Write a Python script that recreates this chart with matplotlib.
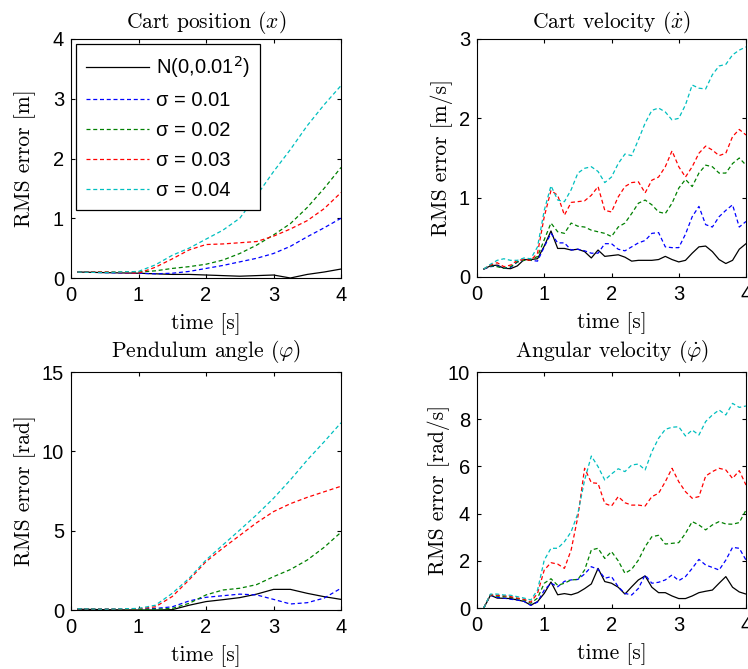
import matplotlib
matplotlib.use("Agg")

import numpy as np
import matplotlib.pyplot as plt

# ---------------------------
# DATA
# ---------------------------

# left panels are smooth, sampled coarser
t_slow = [0.1, 0.5, 1.0, 1.25, 1.5, 1.75, 2.0, 2.25, 2.5, 2.75, 3.0, 3.25, 3.5, 3.75, 4.0]

pos_noise = [0.10, 0.09, 0.08, 0.07, 0.06, 0.06, 0.05, 0.04, 0.03, 0.04, 0.05, 0.00, 0.06, 0.10, 0.15]
pos_s01 = [0.10, 0.09, 0.08, 0.07, 0.08, 0.11, 0.16, 0.21, 0.27, 0.33, 0.41, 0.53, 0.69, 0.84, 1.00]
pos_s02 = [0.10, 0.10, 0.10, 0.12, 0.16, 0.19, 0.23, 0.30, 0.41, 0.55, 0.72, 0.91, 1.18, 1.50, 1.85]
pos_s03 = [0.10, 0.10, 0.08, 0.18, 0.32, 0.47, 0.56, 0.57, 0.59, 0.61, 0.70, 0.82, 0.96, 1.16, 1.43]
pos_s04 = [0.10, 0.09, 0.11, 0.22, 0.38, 0.50, 0.65, 0.80, 1.00, 1.38, 1.78, 2.15, 2.55, 2.90, 3.22]

ang_noise = [0.05, 0.02, 0.00, 0.00, 0.02, 0.30, 0.53, 0.65, 0.78, 1.00, 1.30, 1.30, 1.05, 0.84, 0.67]
ang_s01 = [0.08, 0.05, 0.05, 0.10, 0.20, 0.57, 0.80, 0.90, 1.00, 0.95, 0.67, 0.38, 0.46, 0.75, 1.37]
ang_s02 = [0.08, 0.05, 0.03, 0.05, 0.10, 0.42, 0.95, 1.26, 1.37, 1.60, 2.10, 2.55, 3.15, 3.95, 4.90]
ang_s03 = [0.08, 0.05, 0.08, 0.20, 0.85, 1.90, 3.05, 3.90, 4.70, 5.50, 6.20, 6.70, 7.10, 7.45, 7.80]
ang_s04 = [0.08, 0.05, 0.10, 0.30, 1.05, 2.00, 3.15, 4.10, 5.04, 6.00, 7.04, 8.20, 9.45, 10.60, 11.80]

# right panels, 0.1 s steps
t_fast = [round(0.1 * k, 1) for k in range(1, 41)]

vel_noise = [0.10, 0.14, 0.15, 0.11, 0.105, 0.14, 0.22, 0.22, 0.23, 0.39,
             0.58, 0.36, 0.36, 0.34, 0.35, 0.32, 0.24, 0.34, 0.26, 0.27,
             0.28, 0.25, 0.20, 0.21, 0.21, 0.21, 0.22, 0.26, 0.22, 0.19,
             0.21, 0.30, 0.38, 0.39, 0.32, 0.22, 0.17, 0.21, 0.35, 0.42]
vel_s01 = [0.10, 0.13, 0.14, 0.11, 0.12, 0.19, 0.21, 0.21, 0.20, 0.38,
           0.55, 0.43, 0.43, 0.34, 0.35, 0.33, 0.30, 0.30, 0.42, 0.42,
           0.35, 0.33, 0.38, 0.43, 0.46, 0.55, 0.56, 0.38, 0.37, 0.37,
           0.54, 0.76, 0.89, 0.66, 0.63, 0.76, 0.84, 0.91, 0.63, 0.70]
vel_s02 = [0.10, 0.14, 0.13, 0.11, 0.13, 0.19, 0.21, 0.21, 0.26, 0.47,
           0.68, 0.57, 0.55, 0.68, 0.64, 0.63, 0.59, 0.57, 0.55, 0.51,
           0.63, 0.68, 0.80, 0.93, 0.97, 0.91, 0.82, 0.80, 0.93, 1.12,
           1.23, 1.14, 1.31, 1.41, 1.39, 1.31, 1.31, 1.43, 1.50, 1.41]
vel_s03 = [0.10, 0.15, 0.18, 0.13, 0.15, 0.21, 0.22, 0.21, 0.30, 0.76,
           1.09, 1.03, 0.78, 0.94, 0.95, 0.96, 1.03, 1.14, 0.84, 0.82,
           1.01, 1.14, 1.19, 1.20, 1.06, 1.22, 1.26, 1.39, 1.59, 1.39,
           1.26, 1.39, 1.56, 1.65, 1.60, 1.53, 1.56, 1.77, 1.86, 1.79]
vel_s04 = [0.10, 0.16, 0.21, 0.23, 0.21, 0.21, 0.24, 0.23, 0.38, 0.84,
           1.15, 0.97, 0.95, 1.10, 1.31, 1.37, 1.39, 1.33, 1.19, 1.26,
           1.43, 1.55, 1.53, 1.73, 1.94, 2.10, 2.13, 2.08, 1.98, 2.00,
           2.17, 2.42, 2.38, 2.37, 2.55, 2.66, 2.68, 2.80, 2.86, 2.90]

avel_noise = [0.00, 0.54, 0.42, 0.41, 0.40, 0.34, 0.28, 0.12, 0.27, 0.62,
              1.10, 0.56, 0.61, 0.56, 0.65, 0.82, 1.02, 1.68, 1.12, 1.05,
              0.88, 0.59, 0.90, 1.19, 1.36, 0.88, 0.65, 0.65, 0.51, 0.40,
              0.40, 0.51, 0.65, 0.71, 0.76, 1.05, 1.33, 0.88, 0.68, 0.59]
avel_s01 = [0.00, 0.54, 0.45, 0.42, 0.37, 0.34, 0.28, 0.11, 0.25, 0.76,
            1.05, 0.90, 1.13, 1.19, 1.21, 1.44, 1.75, 1.64, 1.26, 1.33,
            0.90, 0.62, 0.55, 0.83, 1.40, 1.05, 1.09, 1.19, 1.40, 1.16,
            1.33, 1.68, 2.06, 1.82, 1.72, 1.61, 2.03, 2.57, 2.53, 2.03]
avel_s02 = [0.00, 0.56, 0.50, 0.48, 0.45, 0.40, 0.34, 0.20, 0.42, 1.05,
            1.24, 0.96, 1.05, 1.19, 1.21, 1.61, 2.46, 2.53, 2.10, 2.39,
            2.00, 1.47, 1.64, 2.03, 2.60, 3.02, 3.08, 2.71, 2.74, 2.77,
            3.16, 3.66, 3.52, 3.31, 3.52, 3.66, 3.56, 3.55, 3.62, 4.15]
avel_s03 = [0.00, 0.56, 0.54, 0.52, 0.48, 0.42, 0.37, 0.25, 0.62, 1.61,
            1.92, 1.86, 1.68, 2.46, 3.87, 5.92, 5.31, 5.28, 4.43, 4.32,
            4.72, 4.46, 4.36, 4.36, 4.32, 4.72, 4.86, 5.35, 5.92, 5.35,
            4.93, 4.65, 4.72, 5.59, 5.78, 5.92, 5.85, 5.49, 5.82, 5.21]
avel_s04 = [0.00, 0.59, 0.59, 0.55, 0.54, 0.48, 0.42, 0.34, 0.76, 2.03,
            2.53, 2.53, 2.81, 3.23, 4.01, 5.42, 6.44, 5.99, 5.42, 5.68,
            5.90, 5.78, 6.06, 6.10, 5.85, 6.62, 7.19, 7.57, 7.66, 7.68,
            7.29, 7.54, 7.33, 7.90, 8.18, 8.39, 8.18, 8.67, 8.50, 8.56]

labels = ["N(0,0.01$^2$)", "\u03c3 = 0.01", "\u03c3 = 0.02", "\u03c3 = 0.03", "\u03c3 = 0.04"]
colors = ["k", (0, 0, 1), (0, 0.5, 0), (1, 0, 0), (0, 0.75, 0.75)]

# ---------------------------
# STYLE
# ---------------------------

plt.rcParams.update({
    "font.family": ["Liberation Sans", "DejaVu Sans"],
    "mathtext.fontset": "cm",
    "xtick.direction": "in",
    "ytick.direction": "in",
    "xtick.top": True,
    "ytick.right": True,
    "xtick.major.size": 3,
    "ytick.major.size": 3,
    "xtick.major.pad": 6,
    "ytick.major.pad": 5,
    "xtick.labelsize": 14.5,
    "ytick.labelsize": 14.5,
    "axes.linewidth": 0.8,
})

SERIF = "cmr10"
LBL = 15.5

fig = plt.figure(figsize=(7.48, 6.69), dpi=100)

W, H = 748, 669


def make_ax(x0, x1, y0, y1):
    # pixel box -> figure fraction
    return fig.add_axes([x0 / W, 1 - y1 / H, (x1 - x0) / W, (y1 - y0) / H])


# (axes, time, series, title, ylabel, ylim, yticks, ylabel x in axes coords, title pad)
panels = [
    (make_ax(71, 341, 39, 278), t_slow, [pos_noise, pos_s01, pos_s02, pos_s03, pos_s04],
     r"Cart position ($x$)", "RMS error [m]", [0, 4], [0, 1, 2, 3, 4], -0.13, 8),
    (make_ax(477, 746, 39, 277), t_fast, [vel_noise, vel_s01, vel_s02, vel_s03, vel_s04],
     r"Cart velocity ($\dot{x}$)", "RMS error [m/s]", [0, 3], [0, 1, 2, 3], -0.09, 8),
    (make_ax(71, 341, 372, 610), t_slow, [ang_noise, ang_s01, ang_s02, ang_s03, ang_s04],
     r"Pendulum angle ($\varphi$)", "RMS error [rad]", [0, 15], [0, 5, 10, 15], -0.13, 11),
    (make_ax(477, 746, 372, 608), t_fast, [avel_noise, avel_s01, avel_s02, avel_s03, avel_s04],
     r"Angular velocity ($\dot{\varphi}$)", "RMS error [rad/s]", [0, 10], [0, 2, 4, 6, 8, 10], -0.10, 11),
]

for ax, tt, series, title, ylab, ylim, yticks, ylx, tpad in panels:
    for i, (ys, c, lab) in enumerate(zip(series, colors, labels)):
        if i == 0:
            ax.plot(tt, ys, color=c, lw=0.9, label=lab)
        else:
            ax.plot(tt, ys, color=c, lw=0.9, dashes=(3.2, 2.2), label=lab)
    ax.set_xlim(0, 4)
    ax.set_ylim(*ylim)
    ax.set_xticks([0, 1, 2, 3, 4])
    ax.set_yticks(yticks)
    ax.set_title(title, fontfamily=SERIF, fontsize=LBL, pad=tpad)
    ax.set_xlabel("time [s]", fontfamily=SERIF, fontsize=LBL, labelpad=6)
    ax.set_ylabel(ylab, fontfamily=SERIF, fontsize=LBL)
    ax.yaxis.set_label_coords(ylx, 0.5)

leg = panels[0][0].legend(loc="upper left", fontsize=14.5, handlelength=3.1,
                          labelspacing=0.55, borderaxespad=0.25, fancybox=False,
                          edgecolor="k", framealpha=1, handletextpad=0.35,
                          borderpad=0.5)
leg.get_frame().set_linewidth(0.9)
for txt in leg.get_texts():
    txt.set_math_fontfamily("dejavusans")

plt.savefig("out.png", dpi=100)
